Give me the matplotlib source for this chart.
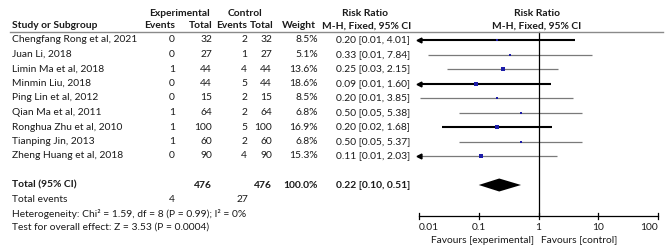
import matplotlib
matplotlib.use("Agg")
import matplotlib.pyplot as plt

studies = ["Chengfang Rong et al, 2021", "Juan Li, 2018", "Limin Ma et al, 2018",
           "Minmin Liu, 2018", "Ping Lin et al, 2012", "Qian Ma et al, 2011",
           "Ronghua Zhu et al, 2010", "Tianping Jin, 2013", "Zheng Huang et al, 2018"]
exp_events = [0, 0, 1, 0, 0, 1, 1, 1, 0]
exp_total = [32, 27, 44, 44, 15, 64, 100, 60, 90]
ctl_events = [2, 1, 4, 5, 2, 2, 5, 2, 4]
ctl_total = [32, 27, 44, 44, 15, 64, 100, 60, 90]
weights = [8.5, 5.1, 13.6, 18.6, 8.5, 6.8, 16.9, 6.8, 15.3]
rr = [0.20, 0.33, 0.25, 0.09, 0.20, 0.50, 0.20, 0.50, 0.11]
ci_low = [0.0099, 0.0142, 0.0291, 0.0052, 0.0104, 0.0465, 0.0238, 0.0466, 0.0061]
ci_high = [4.01, 7.84, 2.15, 1.60, 3.85, 5.38, 1.68, 5.37, 2.03]
total_rr, total_low, total_high = 0.22, 0.10, 0.51
total_exp_n, total_ctl_n = 476, 476
total_exp_ev, total_ctl_ev = 4, 27
x_ticks = [0.01, 0.1, 1, 10, 100]
x_ticklabels = ["0.01", "0.1", "1", "10", "100"]

W, H = 669, 247
plt.rcParams["font.family"] = ["Lato", "DejaVu Sans"]
fig = plt.figure(figsize=(W / 100, H / 100), dpi=100)
fig.patch.set_facecolor("white")
txt_col = "#1a1a1a"
fs = 7.4


def put(x, y, s, ha="left", bold=False, size=fs):
    fig.text(x / W, 1 - y / H, s, ha=ha, va="center", fontsize=size,
             color=txt_col, fontweight="bold" if bold else "normal")


# headers
put(180, 13, "Experimental", ha="center", bold=True)
put(245, 13, "Control", ha="center", bold=True)
put(365, 13, "Risk Ratio", ha="center", bold=True)
put(537, 13, "Risk Ratio", ha="center", bold=True)
put(12, 26, "Study or Subgroup", bold=True)
put(175, 26, "Events", ha="right", bold=True)
put(213, 26, "Total", ha="right", bold=True)
put(247, 26, "Events", ha="right", bold=True)
put(274, 26, "Total", ha="right", bold=True)
put(316, 26, "Weight", ha="right", bold=True)
put(367, 26, "M-H, Fixed, 95% CI", ha="center", bold=True)
put(537, 26, "M-H, Fixed, 95% CI", ha="center", bold=True)
fig.add_artist(plt.Line2D([10 / W, 663 / W], [1 - 32 / H, 1 - 32 / H],
                          color="#8a8a8a", lw=1.0))

row_y = [40 + 14.5 * i for i in range(len(studies))]
for i, y in enumerate(row_y):
    put(12, y, studies[i])
    put(175, y, str(exp_events[i]), ha="right")
    put(212, y, str(exp_total[i]), ha="right")
    put(247, y, str(ctl_events[i]), ha="right")
    put(272, y, str(ctl_total[i]), ha="right")
    put(318, y, f"{weights[i]:.1f}%", ha="right")
    put(410, y, f"{rr[i]:.2f} [{ci_low[i]:.2f}, {ci_high[i]:.2f}]", ha="right")

ty = 185
put(12, ty, "Total (95% CI)", bold=True)
put(212, ty, str(total_exp_n), ha="right", bold=True)
put(272, ty, str(total_ctl_n), ha="right", bold=True)
put(318, ty, "100.0%", ha="right", bold=True)
put(410, ty, f"{total_rr:.2f} [{total_low:.2f}, {total_high:.2f}]", ha="right", bold=True)
put(12, 199.5, "Total events")
put(175, 199.5, str(total_exp_ev), ha="right")
put(248, 199.5, str(total_ctl_ev), ha="right")
put(12, 213.5, "Heterogeneity: Chi² = 1.59, df = 8 (P = 0.99); I² = 0%")
put(12, 227.5, "Test for overall effect: Z = 3.53 (P = 0.0004)")

# forest panel
axis_y = 216
ax = fig.add_axes([419 / W, 1 - axis_y / H, (658 - 419) / W, (axis_y - 32) / H])
ax.set_xscale("log")
ax.set_xlim(0.01, 100)
ax.set_ylim(axis_y, 32)
ax.axis("off")

thick = [True, False, False, True, False, False, True, False, False]
for i, y in enumerate(row_y):
    lo = max(ci_low[i], 0.01)
    col = "black" if thick[i] else "#7a7a7a"
    lw = 1.5 if thick[i] else 0.9
    ax.plot([lo, ci_high[i]], [y, y], color=col, lw=lw, solid_capstyle="butt")
    if ci_low[i] < 0.01:
        ax.plot([0.01], [y], marker="<", color="black", ms=3.5, clip_on=False)
    ax.plot([rr[i]], [y], marker="s", color="#1c1ca8", ms=0.7 * weights[i] ** 0.5,
            mew=0, zorder=5)

ax.fill([total_low, total_rr, total_high, total_rr],
        [ty, ty - 6.5, ty, ty + 6.5], color="black", lw=0)
ax.plot([1, 1], [32, axis_y], color="black", lw=0.9, clip_on=False)
ax.plot([0.01, 100], [axis_y, axis_y], color="black", lw=0.9, clip_on=False)
for t, lab in zip(x_ticks, x_ticklabels):
    ax.plot([t, t], [axis_y - 3, axis_y + 3], color="black", lw=0.9, clip_on=False)
    ha = "left" if t == x_ticks[0] else ("right" if t == x_ticks[-1] else "center")
    ax.text(t, axis_y + 11, lab, ha=ha, va="center", fontsize=fs, color=txt_col)
ax.text(0.85, axis_y + 24, "Favours [experimental]", ha="right", va="center",
        fontsize=fs, color=txt_col)
ax.text(1.12, axis_y + 24, "Favours [control]", ha="left", va="center",
        fontsize=fs, color=txt_col)

fig.savefig("out.png", dpi=100)
